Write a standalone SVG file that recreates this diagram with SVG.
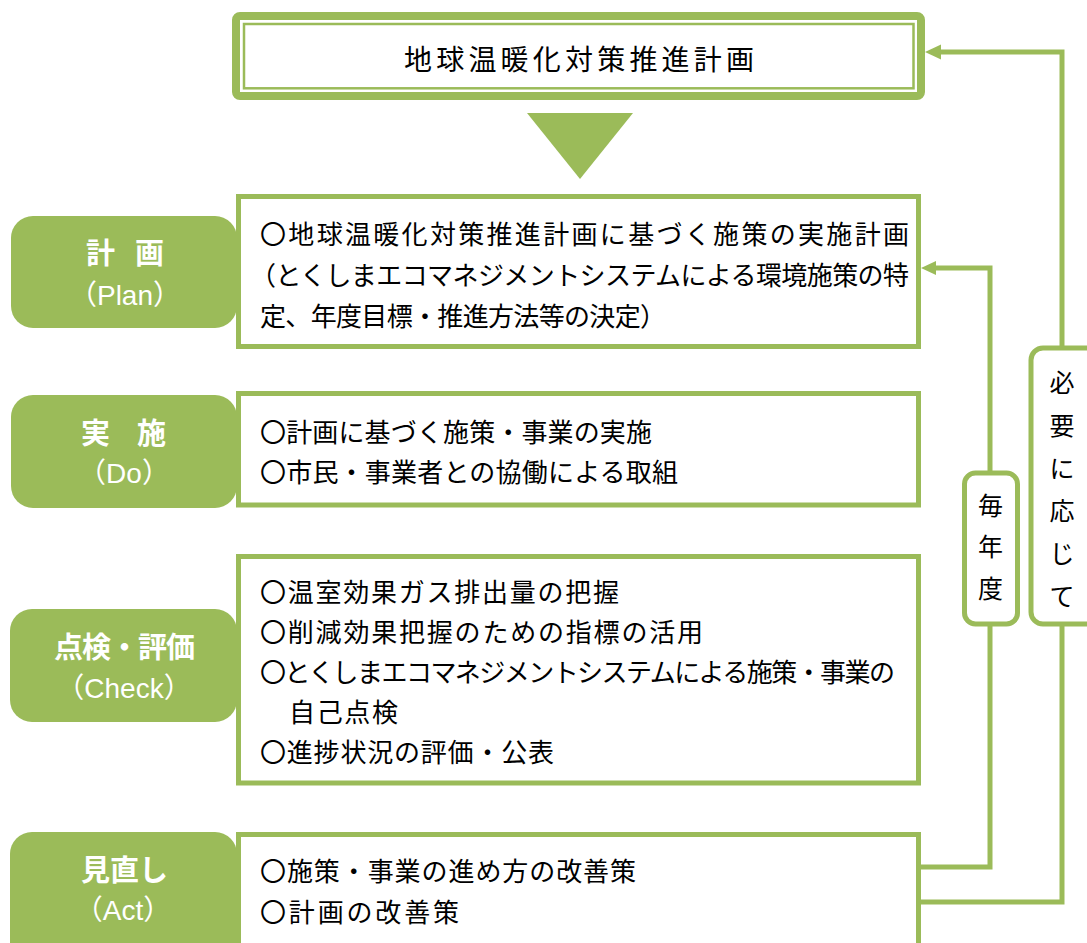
<svg xmlns="http://www.w3.org/2000/svg" width="1087" height="943" viewBox="0 0 1087 943">
<defs>
<style>
.box{fill:#fff;stroke:#9BBB59;stroke-width:5}
.lbl{fill:#9BBB59}
.ln{fill:none;stroke:#9BBB59;stroke-width:5}
.ah{fill:#9BBB59}
.t{font-family:"Noto Sans CJK JP","Noto Sans CJK SC",sans-serif;font-size:26px;fill:#000}
.h{font-family:"Noto Sans CJK JP",sans-serif;font-size:29px;font-weight:bold;fill:#fff}
.e{font-family:"Liberation Sans","Noto Sans CJK JP",sans-serif;font-size:28px;fill:#fff;text-anchor:middle}
.v{font-family:"Noto Sans CJK JP",sans-serif;font-size:25px;fill:#000;text-anchor:middle}
</style>
</defs>
<rect width="1087" height="943" fill="#fff"/>

<g id="connectors">
<polyline class="ln" points="918,902 1062,902 1062,620"/>
<polyline class="ln" points="1062,350 1062,52 938,52"/>
<polygon class="ah" points="925,52 941,44.5 941,59.5"/>
<polyline class="ln" points="918,867 990,867 990,620"/>
<polyline class="ln" points="990,475 990,268 934,268"/>
<polygon class="ah" points="921,268 936,261 936,275"/>
</g>

<g id="top">
<rect x="236" y="16" width="685" height="80" rx="4" fill="#fff" stroke="#9BBB59" stroke-width="8"/>
<rect x="244" y="24" width="669.5" height="64.3" fill="none" stroke="#9BBB59" stroke-width="2.5"/>
<text class="t" x="404" y="70" textLength="350" lengthAdjust="spacing" style="font-size:28px">地球温暖化対策推進計画</text>
<polygon class="ah" points="527,113 633,113 580,179"/>
</g>

<g id="plan">
<rect class="lbl" x="11" y="216" width="226" height="112" rx="22"/>
<text class="h" x="86" y="264" textLength="78" lengthAdjust="spacing">計 画</text>
<text class="e" x="125" y="305">（Plan）</text>
<rect class="box" x="238.5" y="196.5" width="680" height="150"/>
<text class="t" x="260" y="244" textLength="649" lengthAdjust="spacing">〇地球温暖化対策推進計画に基づく施策の実施計画</text>
<text class="t" x="250" y="285" textLength="659" lengthAdjust="spacing">（とくしまエコマネジメントシステムによる環境施策の特</text>
<text class="t" x="260" y="326" textLength="406" lengthAdjust="spacing">定、年度目標・推進方法等の決定）</text>
</g>

<g id="do">
<rect class="lbl" x="11" y="395" width="226" height="113" rx="22"/>
<text class="h" x="81" y="444" textLength="85" lengthAdjust="spacing">実 施</text>
<text class="e" x="124" y="483">（Do）</text>
<rect class="box" x="238.5" y="393.5" width="680" height="111.5"/>
<text class="t" x="260" y="442" textLength="392" lengthAdjust="spacing">〇計画に基づく施策・事業の実施</text>
<text class="t" x="260" y="482" textLength="418" lengthAdjust="spacing">〇市民・事業者との協働による取組</text>
</g>

<g id="check">
<rect class="lbl" x="10" y="609" width="227" height="113" rx="22"/>
<text class="h" x="54" y="657.5" textLength="141" lengthAdjust="spacing">点検・評価</text>
<text class="e" x="124" y="698">（Check）</text>
<rect class="box" x="238.5" y="556.5" width="680" height="226.5"/>
<text class="t" x="260" y="602" textLength="359" lengthAdjust="spacing">〇温室効果ガス排出量の把握</text>
<text class="t" x="260" y="642" textLength="443" lengthAdjust="spacing">〇削減効果把握のための指標の活用</text>
<text class="t" x="260" y="682" textLength="635" lengthAdjust="spacing">〇とくしまエコマネジメントシステムによる施策・事業の</text>
<text class="t" x="289" y="722" textLength="109" lengthAdjust="spacing">自己点検</text>
<text class="t" x="260" y="762" textLength="294" lengthAdjust="spacing">〇進捗状況の評価・公表</text>
</g>

<g id="act">
<rect class="lbl" x="10" y="832" width="227" height="140" rx="22"/>
<text class="h" x="81" y="880.5">見直し</text>
<text class="e" x="123" y="920">（Act）</text>
<rect class="box" x="238.5" y="834.5" width="680" height="130"/>
<text class="t" x="260" y="881" textLength="376" lengthAdjust="spacing">〇施策・事業の進め方の改善策</text>
<text class="t" x="260" y="922" textLength="199" lengthAdjust="spacing">〇計画の改善策</text>
</g>

<g id="maitoshi">
<rect class="box" x="964.5" y="473" width="53" height="151" rx="11"/>
<text class="v"><tspan x="990.5" y="514.5">毎</tspan><tspan x="990.5" y="556">年</tspan><tspan x="990.5" y="597.5">度</tspan></text>
</g>

<g id="hitsuyou">
<rect class="box" x="1031" y="348" width="80" height="276" rx="12"/>
<text class="v"><tspan x="1062" y="392">必</tspan><tspan x="1062" y="435">要</tspan><tspan x="1062" y="477.5">に</tspan><tspan x="1062" y="520">応</tspan><tspan x="1062" y="563">じ</tspan><tspan x="1062" y="605.5">て</tspan></text>
</g>
</svg>
